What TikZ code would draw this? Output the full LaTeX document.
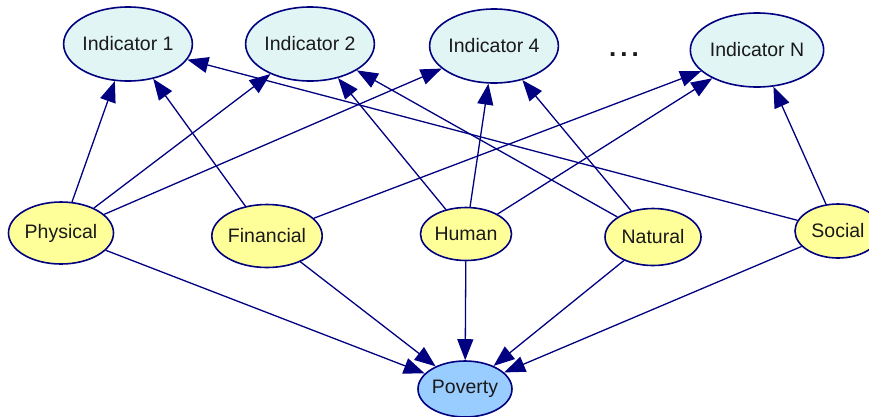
\documentclass[tikz,border=0pt]{standalone}
\usepackage{fontspec}
\setmainfont{Liberation Sans}
\usetikzlibrary{shapes.geometric,arrows.meta}
\definecolor{edgeblue}{HTML}{000080}
\definecolor{indfill}{HTML}{E1F5F5}
\definecolor{capfill}{HTML}{FFFF99}
\definecolor{povfill}{HTML}{99CCFF}
\definecolor{txt}{HTML}{1A1A1A}
\tikzset{
  nodebase/.style={ellipse, draw=edgeblue, line width=1.6pt, inner sep=0pt, text=txt,
    font=\fontsize{19.5}{22}\selectfont},
  indnode/.style={nodebase, fill=indfill, minimum width=119pt, minimum height=74pt},
  capnode/.style={nodebase, fill=capfill},
  povnode/.style={nodebase, fill=povfill, minimum width=94pt, minimum height=56pt},
  link/.style={draw=edgeblue, line width=1.3pt, -{Triangle[length=21pt,width=16pt]}}
}
\begin{document}
\begin{tikzpicture}[x=1pt,y=-1pt]
\useasboundingbox (0,0) rectangle (869,416);
\node[indnode] (i1) at (128,44) {Indicator 1};
\node[indnode] (i2) at (310,44) {Indicator 2};
\node[indnode] (i4) at (494,46) {Indicator 4};
\node[indnode] (iN) at (757,50) {Indicator N};
\node[font=\bfseries\fontsize{26}{28}\selectfont, text=txt] (dots) at (624,55) {.\hspace{4pt}.\hspace{4pt}.};
\node[capnode, minimum width=105pt, minimum height=62pt] (phy) at (61,233) {Physical};
\node[capnode, minimum width=107pt, minimum height=63pt] (fin) at (267,236) {Financial};
\node[capnode, minimum width=91pt, minimum height=53pt] (hum) at (466,234) {Human};
\node[capnode, minimum width=96pt, minimum height=57pt] (nat) at (653,237) {Natural};
\node[capnode, minimum width=86pt, minimum height=54pt] (soc) at (838,231) {Social};
\node[povnode] (pov) at (465,389) {Poverty};
\draw[link] (phy) -- (i1);
\draw[link] (phy) -- (i2);
\draw[link] (phy) -- (i4);
\draw[link] (phy) -- (pov);
\draw[link] (fin) -- (i1);
\draw[link] (fin) -- (iN);
\draw[link] (fin) -- (pov);
\draw[link] (hum) -- (i2);
\draw[link] (hum) -- (i4);
\draw[link] (hum) -- (iN);
\draw[link] (hum) -- (pov);
\draw[link] (nat) -- (i2);
\draw[link] (nat) -- (i4);
\draw[link] (nat) -- (pov);
\draw[link] (soc) -- (i1);
\draw[link] (soc) -- (iN);
\draw[link] (soc) -- (pov);
\end{tikzpicture}
\end{document}
